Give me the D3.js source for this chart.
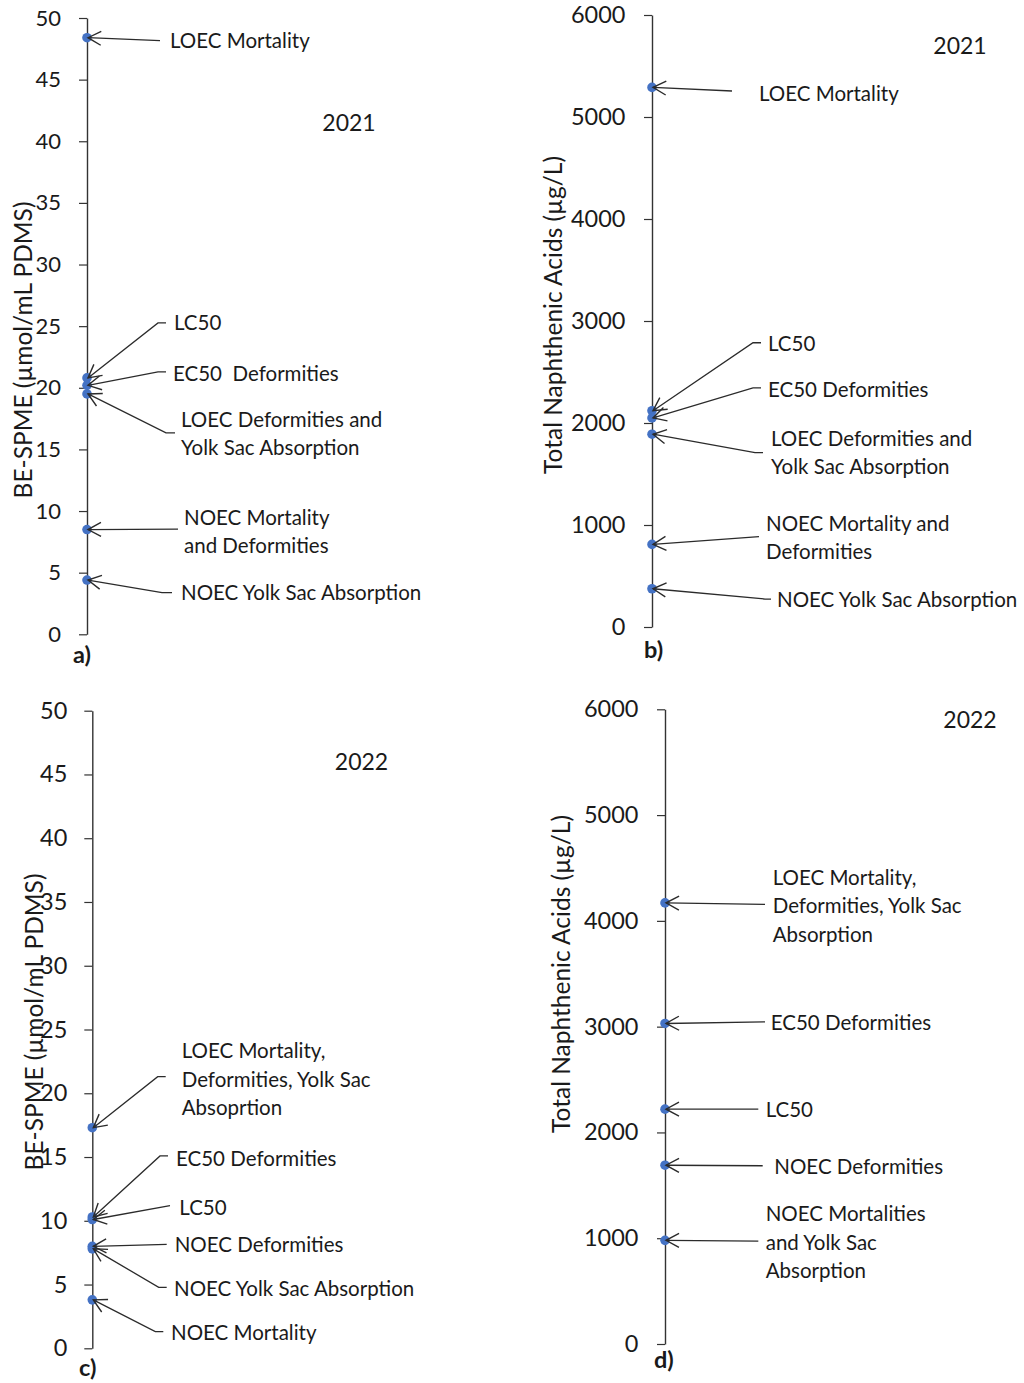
<!DOCTYPE html>
<html>
<head>
<meta charset="utf-8">
<script src="https://cdn.jsdelivr.net/npm/d3@7/dist/d3.min.js"></script>
<style>
  html, body { margin: 0; padding: 0; background: #fff; }
  svg { display: block; }
  text { font-family: Lato, "Open Sans", sans-serif; fill: #1a1a1a; white-space: pre; }
</style>
</head>
<body>
<svg id="chart" width="1024" height="1383"></svg>
<script>
// ---- Data -------------------------------------------------------------
const ticksBE = [0, 5, 10, 15, 20, 25, 30, 35, 40, 45, 50];
const ticksNA = [0, 1000, 2000, 3000, 4000, 5000, 6000];

const titleBE = "BE-SPME (µmol/mL PDMS)";
const titleNA = "Total Naphthenic Acids (µg/L)";

// a) BE-SPME, 2021
const endpointsA = [
  ["LOEC Mortality"],
  ["LC50"],
  ["EC50  Deformities"],
  ["LOEC Deformities and", "Yolk Sac Absorption"],
  ["NOEC Mortality", "and Deformities"],
  ["NOEC Yolk Sac Absorption"]
];
const valuesA = [48.4, 20.8, 20.2, 19.5, 8.5, 4.4];

// b) Total naphthenic acids, 2021
const endpointsB = [
  ["LOEC Mortality"],
  ["LC50"],
  ["EC50 Deformities"],
  ["LOEC Deformities and", "Yolk Sac Absorption"],
  ["NOEC Mortality and", "Deformities"],
  ["NOEC Yolk Sac Absorption"]
];
const valuesB = [5290, 2120, 2050, 1890, 810, 375];

// c) BE-SPME, 2022
const endpointsC = [
  ["LOEC Mortality,", "Deformities, Yolk Sac", "Absoprtion"],
  ["EC50 Deformities"],
  ["LC50"],
  ["NOEC Deformities"],
  ["NOEC Yolk Sac Absorption"],
  ["NOEC Mortality"]
];
const valuesC = [17.3, 10.3, 10.1, 8.0, 7.8, 3.8];

// d) Total naphthenic acids, 2022
const endpointsD = [
  ["LOEC Mortality,", "Deformities, Yolk Sac", "Absorption"],
  ["EC50 Deformities"],
  ["LC50"],
  ["NOEC Deformities"],
  ["NOEC Mortalities", "and Yolk Sac", "Absorption"]
];
const valuesD = [4170, 3030, 2220, 1690, 980];

// ---- Layout -----------------------------------------------------------
// Callout placement relative to the axis (x) and to the marked point (y):
// tx/ty = text start / first-line centre, lx/ly = leader start, elbow = flat run.
const calloutsA = [
  {tx: 83, ty: 2.5, lx: 73, ly: 3},
  {tx: 87, ty: -56, lx: 79, ly: -55, elbow: 8},
  {tx: 86, ty: -12.5, lx: 79, ly: -13.5, elbow: 8},
  {tx: 94, ty: 25, lx: 88, ly: 39, elbow: 9},
  {tx: 97, ty: -12.5, lx: 91, ly: -0.5},
  {tx: 94, ty: 12, lx: 85, ly: 12.5, elbow: 10}
];
const calloutsB = [
  {tx: 107, ty: 5.5, lx: 80, ly: 3.6},
  {tx: 116, ty: -68, lx: 109, ly: -68, elbow: 8},
  {tx: 116, ty: -28.6, lx: 109, ly: -30, elbow: 8},
  {tx: 119, ty: 3.5, lx: 111, ly: 18.5, elbow: 8},
  {tx: 114, ty: -21, lx: 107, ly: -7.7},
  {tx: 125, ty: 10.3, lx: 119, ly: 10.3, elbow: 6}
];
const calloutsC = [
  {tx: 89.4, ty: -77.7, lx: 73.4, ly: -51, elbow: 8},
  {tx: 83.7, ty: -59.3, lx: 75.7, ly: -61, elbow: 8},
  {tx: 87, ty: -12.2, lx: 77.7, ly: -13.8},
  {tx: 82.4, ty: -2, lx: 74.4, ly: -2},
  {tx: 81.7, ty: 39.5, lx: 74.4, ly: 38.5, elbow: 8},
  {tx: 78.7, ty: 31.8, lx: 71, ly: 31.8, elbow: 8}
];
const calloutsD = [
  {tx: 107.7, ty: -26.1, lx: 100, ly: 1.5},
  {tx: 105.7, ty: -1.7, lx: 100, ly: -1.7},
  {tx: 100.7, ty: 0.2, lx: 93.3, ly: 0},
  {tx: 109.3, ty: 0.5, lx: 97.7, ly: 0.5},
  {tx: 100.7, ty: -27, lx: 93.3, ly: 0.7}
];

const panels = [
  {id: "a", year: "2021", ticks: ticksBE, title: titleBE, labels: endpointsA, values: valuesA, callouts: calloutsA,
   axisX: 87, yTop: 18, yBottom: 634.3, tickFont: 22, tickPad: 18,
   titleX: 32, titleY: 350, yearX: 349, yearY: 122, tagX: 73, tagY: 663, lineGap: 28},
  {id: "b", year: "2021", ticks: ticksNA, title: titleNA, labels: endpointsB, values: valuesB, callouts: calloutsB,
   axisX: 652, yTop: 15, yBottom: 627, tickFont: 23.5, tickPad: 18.5,
   titleX: 561.5, titleY: 315, yearX: 960, yearY: 45, tagX: 644, tagY: 657.5, lineGap: 28},
  {id: "c", year: "2022", ticks: ticksBE, title: titleBE, labels: endpointsC, values: valuesC, callouts: calloutsC,
   axisX: 92.3, yTop: 710.7, yBottom: 1348.3, tickFont: 23.5, tickPad: 17,
   titleX: 43, titleY: 1022, yearX: 361.5, yearY: 761, tagX: 79, tagY: 1376, lineGap: 28.7},
  {id: "d", year: "2022", ticks: ticksNA, title: titleNA, labels: endpointsD, values: valuesD, callouts: calloutsD,
   axisX: 665, yTop: 709.3, yBottom: 1344, tickFont: 23.5, tickPad: 18.5,
   titleX: 570, titleY: 974, yearX: 970, yearY: 719, tagX: 654, tagY: 1367.5, lineGap: 28.5}
];

// ---- Drawing ----------------------------------------------------------
const svg = d3.select("#chart");

svg.append("defs").append("marker")
  .attr("id", "openArrow")
  .attr("markerUnits", "userSpaceOnUse")
  .attr("viewBox", "-16 -10 18 20")
  .attr("markerWidth", 18)
  .attr("markerHeight", 20)
  .attr("refX", 0)
  .attr("refY", 0)
  .attr("orient", "auto")
  .append("path")
  .attr("d", "M-13,-7L0,0L-13,7")
  .attr("fill", "none")
  .attr("stroke", "#2b2b2b")
  .attr("stroke-width", 1.4);

panels.forEach(p => {
  const g = svg.append("g").attr("class", "panel panel-" + p.id);
  const y = d3.scaleLinear()
    .domain(d3.extent(p.ticks))
    .range([p.yBottom, p.yTop]);

  // vertical value axis
  const axis = d3.axisLeft(y)
    .tickValues(p.ticks)
    .tickFormat(d3.format("d"))
    .tickSize(8)
    .tickSizeOuter(0)
    .tickPadding(p.tickPad);
  const ax = g.append("g").attr("transform", `translate(${p.axisX},0)`).call(axis);
  ax.select(".domain").attr("stroke", "#333").attr("stroke-width", 1.4);
  ax.selectAll(".tick line").attr("stroke", "#333").attr("stroke-width", 1.2);
  ax.selectAll(".tick text")
    .attr("font-family", "Lato, 'Open Sans', sans-serif")
    .attr("font-size", p.tickFont)
    .attr("fill", "#1a1a1a");

  // rotated axis title
  g.append("text")
    .attr("transform", `translate(${p.titleX},${p.titleY}) rotate(-90)`)
    .attr("text-anchor", "middle")
    .attr("font-size", 24.5)
    .text(p.title);

  // year label
  g.append("text")
    .attr("x", p.yearX).attr("y", p.yearY)
    .attr("text-anchor", "middle")
    .attr("dominant-baseline", "central")
    .attr("font-size", 23)
    .text(p.year);

  // panel tag
  g.append("text")
    .attr("x", p.tagX).attr("y", p.tagY)
    .attr("font-size", 23.5)
    .attr("font-weight", "bold")
    .attr("fill", "#111")
    .text(p.id + ")");

  const items = p.values.map((v, i) => ({v, lines: p.labels[i], c: p.callouts[i]}));

  // endpoint markers
  g.selectAll("circle.pt").data(items).join("circle")
    .attr("class", "pt")
    .attr("cx", p.axisX)
    .attr("cy", d => y(d.v))
    .attr("r", 4.8)
    .attr("fill", "#4472C4");

  // leader arrows from the callout text to each marker
  g.selectAll("path.leader").data(items).join("path")
    .attr("class", "leader")
    .attr("fill", "none")
    .attr("stroke", "#2b2b2b")
    .attr("stroke-width", 1.3)
    .attr("marker-end", "url(#openArrow)")
    .attr("d", d => {
      const py = y(d.v);
      const sx = p.axisX + d.c.lx, sy = py + d.c.ly;
      const pts = [[sx, sy]];
      if (d.c.elbow) pts.push([sx - d.c.elbow, sy]);
      pts.push([p.axisX + 1, py]);
      return d3.line()(pts);
    });

  // callout text
  const txt = g.selectAll("text.callout").data(items).join("text")
    .attr("class", "callout")
    .attr("font-size", 20.5)
    .attr("dominant-baseline", "central");
  txt.each(function(d) {
    const py = y(d.v);
    d3.select(this).selectAll("tspan").data(d.lines).join("tspan")
      .attr("x", p.axisX + d.c.tx)
      .attr("y", (s, j) => py + d.c.ty + j * p.lineGap)
      .text(s => s);
  });
});
</script>
</body>
</html>
